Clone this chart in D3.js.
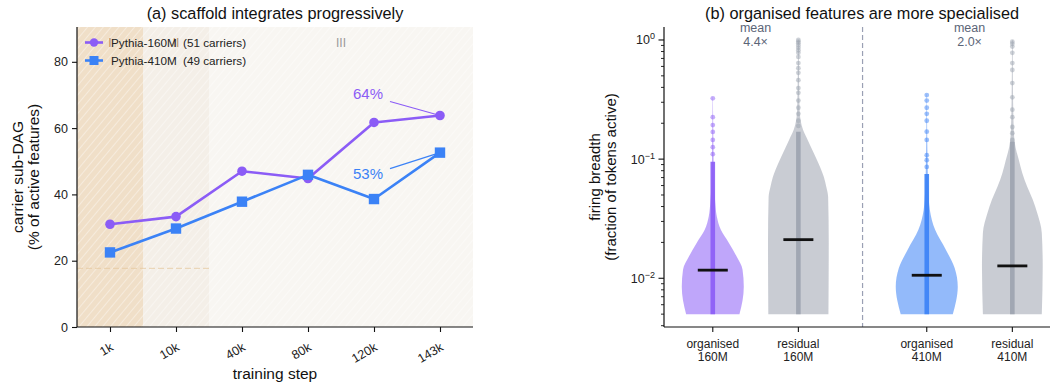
<!DOCTYPE html>
<html>
<head>
<meta charset="utf-8">
<script src="https://cdn.jsdelivr.net/npm/d3@7"></script>
<style>
  body { margin: 0; background: #fff; }
  svg { font-family: "Liberation Sans", Arial, Helvetica, sans-serif; }
</style>
</head>
<body>
<svg id="chart" width="1050" height="383"></svg>
<script>
// ---------- (a) carrier sub-DAG share over training ----------
const steps = ["1k", "10k", "40k", "80k", "120k", "143k"];
const carriers160 = [31.0, 33.3, 47.0, 44.8, 61.7, 63.8];
const carriers410 = [22.5, 29.7, 37.8, 45.9, 38.6, 52.6];
const seriesNames = ["Pythia-160M", "Pythia-410M"];
const carrierCounts = [51, 49];
const phaseNames = ["I", "II", "III"];
const phaseSteps = [["1k"], ["10k"], ["40k", "80k", "120k", "143k"]];
const baselinePct = 17.7;
const yTicksA = [0, 20, 40, 60, 80];

// ---------- (b) firing breadth by feature group ----------
const models = ["160M", "410M"];
const kinds = ["organised", "residual"];
const meanRatios = [4.4, 2.0];
// violin outlines: [breadth, relative density]
const profOrg160 = [[0.005, 0.86], [0.0065, 0.96], [0.0085, 1.0], [0.0118, 0.96], [0.0152, 0.77], [0.0198, 0.52],
  [0.0255, 0.26], [0.033, 0.13], [0.043, 0.08], [0.06, 0.045], [0.1, 0.025], [0.2, 0.012], [0.33, 0.005]];
const profRes160 = [[0.005, 0.97], [0.02, 0.98], [0.048, 0.96], [0.0585, 0.9], [0.071, 0.82], [0.0985, 0.6],
  [0.119, 0.45], [0.145, 0.3], [0.176, 0.15], [0.213, 0.07], [0.26, 0.04], [0.5, 0.02], [1.0, 0.01]];
const profOrg410 = [[0.005, 0.84], [0.0065, 0.95], [0.0085, 1.0], [0.0122, 0.9], [0.0173, 0.62], [0.0255, 0.27],
  [0.0375, 0.1], [0.055, 0.05], [0.1, 0.025], [0.2, 0.01], [0.35, 0.005]];
const profRes410 = [[0.005, 0.95], [0.0125, 0.98], [0.024, 0.95], [0.0354, 0.8], [0.0455, 0.66], [0.0585, 0.48],
  [0.0766, 0.32], [0.0985, 0.21], [0.1265, 0.1], [0.166, 0.05], [0.3, 0.025], [1.0, 0.01]];
const medians = [0.0117, 0.0211, 0.0106, 0.0127];
const breadthMin = [0.005, 0.005, 0.005, 0.005];
const denseTop = [0.095, 0.17, 0.075, 0.14];
const tailOrg160 = [0.11, 0.126, 0.145, 0.169, 0.193, 0.225, 0.324];
const tailRes160 = [0.19, 0.21, 0.24, 0.27, 0.31, 0.36, 0.395, 0.46, 0.53, 0.58, 0.64, 0.72, 0.78, 0.82, 0.86, 0.9, 0.94, 0.97, 1.0];
const tailOrg410 = [0.086, 0.098, 0.108, 0.145, 0.17, 0.21, 0.24, 0.27, 0.31, 0.345];
const tailRes410 = [0.145, 0.165, 0.186, 0.225, 0.26, 0.33, 0.435, 0.56, 0.64, 0.78, 0.88, 0.93, 0.968];
const yTicksB = [1, 0.1, 0.01];

const PURPLE = "#8b5cf6", BLUE = "#3b82f6", GREY = "#9ca3af";
const svg = d3.select("#chart");
const defs = svg.append("defs");

const hatch = defs.append("pattern").attr("id", "hatch")
  .attr("patternUnits", "userSpaceOnUse").attr("width", 6).attr("height", 6)
  .attr("patternTransform", "rotate(40)");
hatch.append("line").attr("x1", 0).attr("y1", 0).attr("x2", 0).attr("y2", 6)
  .attr("stroke", "#fff").attr("stroke-width", 1.3).attr("stroke-opacity", 0.6);

// ================= panel (a) =================
const A = { left: 77, right: 473, top: 27, bottom: 327 };
const xA = d3.scalePoint().domain(steps).range([A.left, A.right]).padding(0.5);
const yA = d3.scaleLinear().domain([0, 90.5]).range([A.bottom, A.top]);
const stepW = xA.step();
const gA = svg.append("g");

const phaseFill = ["#f0dfc8", "#f4efe8", "#f8f6f2"];
const phaseText = ["#b8926a", "#b8926a", "#9a9a9a"];
const phaseExt = phaseSteps.map(s => [xA(s[0]) - stepW / 2, xA(s[s.length - 1]) + stepW / 2]);
phaseExt.forEach((e, i) => {
  gA.append("rect").attr("x", e[0]).attr("y", A.top).attr("width", e[1] - e[0])
    .attr("height", A.bottom - A.top).attr("fill", phaseFill[i]);
});
gA.append("rect").attr("x", A.left).attr("y", A.top).attr("width", A.right - A.left)
  .attr("height", A.bottom - A.top).attr("fill", "url(#hatch)");

// early-phase reference level
gA.append("line").attr("x1", phaseExt[0][0]).attr("x2", phaseExt[1][1])
  .attr("y1", yA(baselinePct)).attr("y2", yA(baselinePct))
  .attr("stroke", "#e6c9a0").attr("stroke-width", 1).attr("stroke-dasharray", "6,3").attr("opacity", 0.8);

// phase labels (drawn beneath the legend)
phaseExt.forEach((e, i) => {
  gA.append("text").attr("x", (e[0] + e[1]) / 2).attr("y", 47).attr("text-anchor", "middle")
    .attr("font-size", 12).attr("fill", phaseText[i]).text(phaseNames[i]);
});

// axes
const axA_y = gA.append("g").attr("transform", `translate(${A.left},0)`)
  .call(d3.axisLeft(yA).tickValues(yTicksA).tickSize(5).tickPadding(4));
axA_y.select(".domain").attr("d", `M0,${A.top}V${A.bottom}`);
const axA_x = gA.append("g").attr("transform", `translate(0,${A.bottom})`)
  .call(d3.axisBottom(xA).tickSize(5).tickPadding(4));
axA_x.select(".domain").attr("d", `M${A.left},0H${A.right}`);
[axA_y, axA_x].forEach(ax => {
  ax.select(".domain").attr("stroke", "#111").attr("stroke-width", 1.2);
  ax.selectAll(".tick line").attr("stroke", "#111").attr("stroke-width", 1.1);
  ax.selectAll(".tick text").attr("font-size", 12.5).attr("fill", "#222").attr("font-family", null);
});
axA_x.selectAll(".tick text").attr("text-anchor", "end").attr("dy", "0.35em")
  .attr("transform", "translate(-3,11) rotate(-30)");

// series
const seriesA = [
  { name: seriesNames[0], vals: carriers160, color: PURPLE, shape: "circle", n: carrierCounts[0] },
  { name: seriesNames[1], vals: carriers410, color: BLUE, shape: "square", n: carrierCounts[1] }
];
const lineA = d3.line().x((d, i) => xA(steps[i])).y(d => yA(d));
seriesA.forEach(s => {
  gA.append("path").attr("d", lineA(s.vals)).attr("fill", "none")
    .attr("stroke", s.color).attr("stroke-width", 2.6).attr("stroke-linejoin", "round");
  s.vals.forEach((v, i) => {
    if (s.shape === "circle") {
      gA.append("circle").attr("cx", xA(steps[i])).attr("cy", yA(v)).attr("r", 4.8).attr("fill", s.color);
    } else {
      gA.append("rect").attr("x", xA(steps[i]) - 5.2).attr("y", yA(v) - 5.2)
        .attr("width", 10.4).attr("height", 10.4).attr("fill", s.color);
    }
  });
});

// end-point callouts
const callOff = [{ tx: -72, ty: -17, lx: -50, ly: -14 }, { tx: -72, ty: 26, lx: -50, ly: 16 }];
seriesA.forEach((s, k) => {
  const last = s.vals.length - 1;
  const px = xA(steps[last]), py = yA(s.vals[last]);
  const o = callOff[k];
  gA.append("line").attr("x1", px + o.lx).attr("y1", py + o.ly).attr("x2", px).attr("y2", py)
    .attr("stroke", s.color).attr("stroke-width", 1.2);
  gA.append("text").attr("x", px + o.tx).attr("y", py + o.ty).attr("text-anchor", "middle")
    .attr("font-size", 15).attr("fill", s.color).text(Math.round(s.vals[last]) + "%");
});

// legend
seriesA.forEach((s, k) => {
  const ly = 42.5 + k * 18;
  const lg = gA.append("g");
  lg.append("line").attr("x1", 85).attr("x2", 103).attr("y1", ly).attr("y2", ly)
    .attr("stroke", s.color).attr("stroke-width", 2.6);
  if (s.shape === "circle") lg.append("circle").attr("cx", 94).attr("cy", ly).attr("r", 4.2).attr("fill", s.color);
  else lg.append("rect").attr("x", 89.5).attr("y", ly - 4.5).attr("width", 9).attr("height", 9).attr("fill", s.color);
  lg.append("text").attr("x", 111).attr("y", ly + 4).attr("font-size", 11.7).attr("fill", "#222")
    .attr("xml:space", "preserve").text(`${s.name}  (${s.n} carriers)`);
});

// titles and axis labels
svg.append("text").attr("x", (A.left + A.right) / 2).attr("y", 19).attr("text-anchor", "middle")
  .attr("font-size", 16.3).attr("fill", "#111").text("(a) scaffold integrates progressively");
svg.append("text").attr("x", (A.left + A.right) / 2).attr("y", 379).attr("text-anchor", "middle")
  .attr("font-size", 15.5).attr("fill", "#111").text("training step");
const ylabA = svg.append("text").attr("transform", `translate(0,${(A.top + A.bottom) / 2}) rotate(-90)`)
  .attr("text-anchor", "middle").attr("font-size", 15.5).attr("fill", "#111");
ylabA.append("tspan").attr("x", 0).attr("y", 23).text("carrier sub-DAG");
ylabA.append("tspan").attr("x", 0).attr("y", 39).text("(% of active features)");

// ================= panel (b) =================
const B = { left: 664, right: 1050, top: 27, bottom: 327 };
const xB = d3.scaleLinear().domain([-0.57, 3.94]).range([B.left, B.right]);
const yB = d3.scaleLog().domain([0.0039, 1.285]).range([B.bottom, B.top]);
const wB = d3.scaleLinear().domain([0, 1]).range([0, 31]);
const gB = svg.append("g");

const profiles = [profOrg160, profRes160, profOrg410, profRes410];
const tails = [tailOrg160, tailRes160, tailOrg410, tailRes410];
const groups = [];
models.forEach((m, mi) => kinds.forEach((k, ki) => {
  const gi = mi * 2 + ki;
  groups.push({
    model: m, kind: k, slot: mi * 2.5 + ki,
    color: ki === 0 ? (mi === 0 ? PURPLE : BLUE) : GREY,
    prof: profiles[gi], tail: tails[gi], median: medians[gi], lo: breadthMin[gi], dense: denseTop[gi]
  });
}));

// model separator
const sepX = xB((groups[1].slot + groups[2].slot) / 2);
gB.append("line").attr("x1", sepX).attr("x2", sepX).attr("y1", B.top).attr("y2", B.bottom)
  .attr("stroke", "#9aa0b4").attr("stroke-width", 1.2).attr("stroke-dasharray", "5,3");

groups.forEach(g => {
  const cx = xB(g.slot);
  const area = d3.area().curve(d3.curveMonotoneY)
    .y(d => yB(d[0])).x0(d => cx - wB(d[1])).x1(d => cx + wB(d[1]));
  gB.append("path").attr("d", area(g.prof)).attr("fill", g.color).attr("fill-opacity", 0.55);
  // individual features: dense core and sparse upper tail
  gB.append("line").attr("x1", cx).attr("x2", cx).attr("y1", yB(g.lo)).attr("y2", yB(g.dense))
    .attr("stroke", g.color).attr("stroke-width", 4.6).attr("stroke-opacity", 0.9);
  g.tail.forEach(v => {
    gB.append("circle").attr("cx", cx).attr("cy", yB(v)).attr("r", 2.4)
      .attr("fill", g.color).attr("fill-opacity", 0.5);
  });
  gB.append("line").attr("x1", cx - 15).attr("x2", cx + 15).attr("y1", yB(g.median)).attr("y2", yB(g.median))
    .attr("stroke", "#111").attr("stroke-width", 2.8);
});

// mean ratio notes
models.forEach((m, mi) => {
  const cx = xB((groups[mi * 2].slot + groups[mi * 2 + 1].slot) / 2);
  gB.append("text").attr("x", cx).attr("y", 32).attr("text-anchor", "middle")
    .attr("font-size", 12.5).attr("fill", "#5b6577").text("mean");
  gB.append("text").attr("x", cx).attr("y", 45.5).attr("text-anchor", "middle")
    .attr("font-size", 12.5).attr("fill", "#5b6577").text(meanRatios[mi].toFixed(1) + "×");
});

// axes
gB.append("line").attr("x1", B.left).attr("x2", B.left).attr("y1", B.top).attr("y2", B.bottom)
  .attr("stroke", "#111").attr("stroke-width", 1.2);
gB.append("line").attr("x1", B.left).attr("x2", B.right).attr("y1", B.bottom).attr("y2", B.bottom)
  .attr("stroke", "#111").attr("stroke-width", 1.2);
const minorTicks = [];
[-3, -2, -1, 0].forEach(e => d3.range(2, 10).forEach(k => {
  const v = k * Math.pow(10, e);
  if (v >= yB.domain()[0] && v <= yB.domain()[1]) minorTicks.push(v);
}));
minorTicks.forEach(v => {
  gB.append("line").attr("x1", B.left - 3).attr("x2", B.left).attr("y1", yB(v)).attr("y2", yB(v))
    .attr("stroke", "#111").attr("stroke-width", 0.9);
});
yTicksB.forEach(v => {
  const y = yB(v);
  gB.append("line").attr("x1", B.left - 5.5).attr("x2", B.left).attr("y1", y).attr("y2", y)
    .attr("stroke", "#111").attr("stroke-width", 1.1);
  const exp = Math.round(Math.log10(v));
  const t = gB.append("text").attr("x", B.left - 9).attr("y", y + 4.5).attr("text-anchor", "end")
    .attr("font-size", 12.5).attr("fill", "#222");
  t.append("tspan").text("10");
  t.append("tspan").attr("dy", -5).attr("font-size", 9).text(exp < 0 ? "−" + (-exp) : String(exp));
});
groups.forEach(g => {
  const cx = xB(g.slot);
  gB.append("line").attr("x1", cx).attr("x2", cx).attr("y1", B.bottom).attr("y2", B.bottom + 5)
    .attr("stroke", "#111").attr("stroke-width", 1.1);
  const t = gB.append("text").attr("text-anchor", "middle").attr("font-size", 12).attr("fill", "#222");
  t.append("tspan").attr("x", cx).attr("y", 348).text(g.kind);
  t.append("tspan").attr("x", cx).attr("y", 361).text(g.model);
});

svg.append("text").attr("x", 862).attr("y", 19).attr("text-anchor", "middle")
  .attr("font-size", 16.3).attr("fill", "#111").text("(b) organised features are more specialised");
const ylabB = svg.append("text").attr("transform", `translate(0,${(B.top + B.bottom) / 2}) rotate(-90)`)
  .attr("text-anchor", "middle").attr("font-size", 15).attr("fill", "#111");
ylabB.append("tspan").attr("x", 0).attr("y", 600).text("firing breadth");
ylabB.append("tspan").attr("x", 0).attr("y", 616).text("(fraction of tokens active)");
</script>
</body>
</html>
